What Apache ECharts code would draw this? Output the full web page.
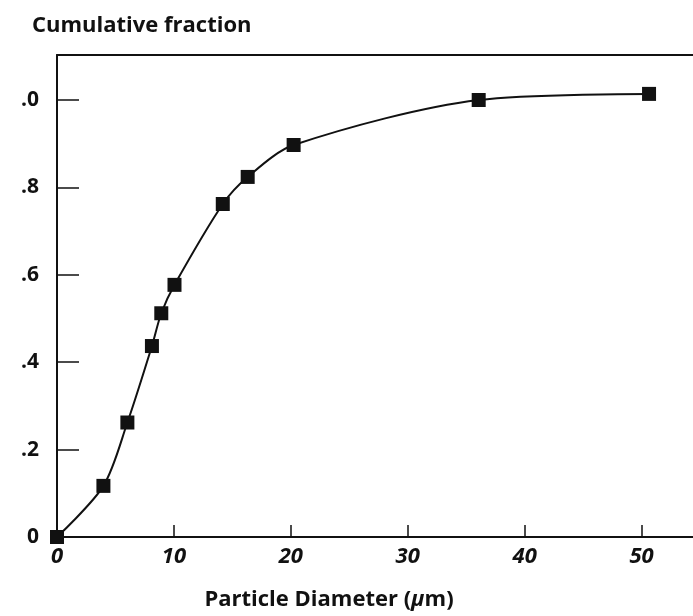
<!DOCTYPE html>
<html>
<head>
<meta charset="utf-8">
<script src="https://cdn.jsdelivr.net/npm/echarts@6/dist/echarts.min.js"></script>
<style>
html,body{margin:0;padding:0;background:#fff;}
#c{width:693px;height:616px;}
</style>
</head>
<body>
<div id="c"></div>
<script>
// Data
const diameters = [0, 3.97, 6.02, 8.12, 8.92, 10.05, 14.18, 16.31, 20.24, 36.07, 50.64];
const cumulative = [0, 0.117, 0.262, 0.437, 0.512, 0.577, 0.762, 0.824, 0.897, 1.0, 1.014];
const xTickValues = [0, 10, 20, 30, 40, 50];
const xTickLabels = ['0', '10', '20', '30', '40', '50'];
const yTickValues = [0, 0.2, 0.4, 0.6, 0.8, 1.0];
const yTickLabels = ['0', '.2', '.4', '.6', '.8', '.0'];

const points = diameters.map((d, i) => [d, cumulative[i]]);
const font = 'Open Sans';
const ink = '#111';

function lookup(values, labels, v) {
  for (let i = 0; i < values.length; i++) {
    if (Math.abs(values[i] - v) < 1e-6) return labels[i];
  }
  return '';
}

const chart = echarts.init(document.getElementById('c'), null, {renderer: 'canvas'});
chart.setOption({
  backgroundColor: '#fff',
  animation: false,
  title: [
    {text: 'Cumulative fraction', left: 27, top: 10,
     textStyle: {fontFamily: font, fontWeight: 'bold', fontSize: 22, color: ink}},
    {text: '{n|Particle Diameter (}{i|μ}{n|m)}', left: 324, top: 584, textAlign: 'center',
     textStyle: {rich: {
       n: {fontFamily: font, fontWeight: 'bold', fontSize: 22, color: ink},
       i: {fontFamily: font, fontWeight: 'bold', fontStyle: 'italic', fontSize: 22, color: ink}
     }}}
  ],
  grid: {left: 57, right: 0, top: 55, bottom: 79, containLabel: false},
  xAxis: [{
    type: 'value', min: 0, max: 54.4, interval: 10,
    axisLine: {show: true, lineStyle: {color: ink, width: 2}},
    axisTick: {show: true, inside: true, length: 12, customValues: xTickValues, lineStyle: {color: ink, width: 1.5}},
    splitLine: {show: false},
    axisLabel: {
      margin: 9, fontFamily: font, fontWeight: 'bold', fontStyle: 'italic', fontSize: 22, color: ink,
      customValues: xTickValues,
      formatter: v => lookup(xTickValues, xTickLabels, v)
    }
  }, {
    type: 'value', position: 'top', min: 0, max: 54.4,
    axisLine: {show: true, onZero: false, lineStyle: {color: ink, width: 2}},
    axisTick: {show: false}, axisLabel: {show: false}, splitLine: {show: false}
  }],
  yAxis: {
    type: 'value', min: 0, max: 1.103, interval: 0.2,
    axisLine: {show: true, lineStyle: {color: ink, width: 2}},
    axisTick: {show: true, inside: true, length: 22, customValues: yTickValues.slice(1), lineStyle: {color: ink, width: 1.5}},
    splitLine: {show: false},
    axisLabel: {
      margin: 18, fontFamily: font, fontWeight: 'bold', fontSize: 21, color: ink,
      customValues: yTickValues,
      formatter: v => lookup(yTickValues, yTickLabels, v)
    }
  },
  series: [{
    type: 'line',
    data: points,
    smooth: 0.3,
    symbol: 'rect',
    symbolSize: 14,
    lineStyle: {color: ink, width: 2},
    itemStyle: {color: ink},
    clip: false,
    z: 5
  }]
});
</script>
</body>
</html>
